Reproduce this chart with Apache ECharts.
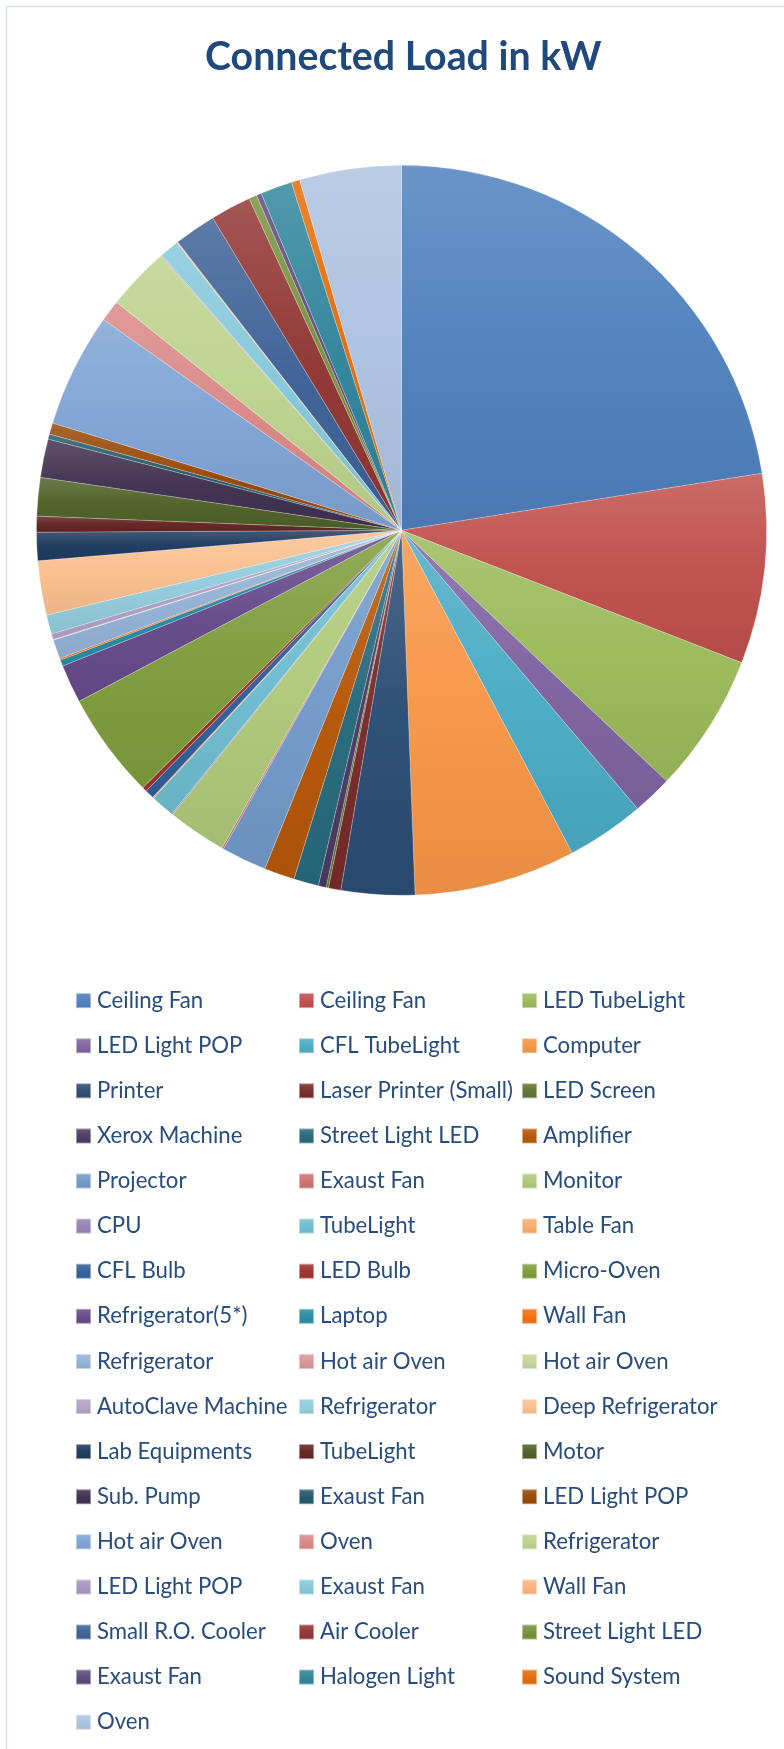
<!DOCTYPE html>
<html>
<head>
<meta charset="utf-8">
<title>Connected Load in kW</title>
<script src="https://cdn.jsdelivr.net/npm/echarts@6/dist/echarts.min.js"></script>
<style>
  html, body { margin: 0; padding: 0; background: #ffffff; }
  #chart { width: 784px; height: 1749px; }
</style>
</head>
<body>
<div id="chart"></div>
<script>
// Appliance categories, in slice order (clockwise from 12 o'clock)
const labels = [
  'Ceiling Fan', 'Ceiling Fan', 'LED TubeLight',
  'LED Light POP', 'CFL TubeLight', 'Computer',
  'Printer', 'Laser Printer (Small)', 'LED Screen',
  'Xerox Machine', 'Street Light LED', 'Amplifier',
  'Projector', 'Exaust Fan', 'Monitor',
  'CPU', 'TubeLight', 'Table Fan',
  'CFL Bulb', 'LED Bulb', 'Micro-Oven',
  'Refrigerator(5*)', 'Laptop', 'Wall Fan',
  'Refrigerator', 'Hot air Oven', 'Hot air Oven',
  'AutoClave Machine', 'Refrigerator', 'Deep Refrigerator',
  'Lab Equipments', 'TubeLight', 'Motor',
  'Sub. Pump', 'Exaust Fan', 'LED Light POP',
  'Hot air Oven', 'Oven', 'Refrigerator',
  'LED Light POP', 'Exaust Fan', 'Wall Fan',
  'Small R.O. Cooler', 'Air Cooler', 'Street Light LED',
  'Exaust Fan', 'Halogen Light', 'Sound System',
  'Oven'
];

// Connected load of each category, kW
const loadKW = [
  45.0, 16.8, 12.3,
  3.5, 6.9, 14.3,
  6.5, 1.1, 0.2,
  0.7, 2.2, 2.7,
  4.0, 0.15, 5.2,
  0.1, 2.1, 0.1,
  0.8, 0.4, 9.4,
  3.4, 0.55, 0.15,
  1.7, 0.03, 0.03,
  0.5, 1.7, 4.8,
  2.5, 1.4, 3.4,
  3.4, 0.45, 1.0,
  10.1, 1.9, 5.6,
  0.1, 1.7, 0.1,
  3.7, 3.6, 0.7,
  0.45, 2.8, 0.75,
  9.0
];

// Office-style colour cycle
const sliceColors = [
  '#4F81BD', '#C0504D', '#9BBB59', '#8064A2', '#4BACC6', '#F79646',
  '#2C4D75', '#772C2A', '#5F7530', '#4D3B62', '#276A7C', '#B65708',
  '#729ACA', '#CD7371', '#AFC97A', '#9983B5', '#6FBDD1', '#F9AB6B',
  '#33609A', '#9E3330', '#7E9D3C', '#664A8A', '#2B8CA7', '#F56F10',
  '#95B3D7', '#D99694', '#C3D69B', '#B3A2C7', '#93CDDD', '#FAC090',
  '#1F3A60', '#632523', '#4F6228', '#3F3151', '#215968', '#984807',
  '#7FA3D5', '#D98987', '#BDD38E', '#A996C2', '#86C8DA', '#FBB47E',
  '#3E6297', '#913634', '#76923C', '#5F497A', '#31859C', '#E46C0A',
  '#ADC3E1'
];

function mix(hex, target, t) {
  const n = parseInt(hex.slice(1), 16);
  const r = (n >> 16) & 255, g = (n >> 8) & 255, b = n & 255;
  const m = c => Math.round(c + (target - c) * t);
  return 'rgb(' + m(r) + ',' + m(g) + ',' + m(b) + ')';
}

// Soft vertical shading: lighter at the top, slightly deeper at the bottom
function shaded(hex) {
  return {
    type: 'linear', x: 0, y: 0, x2: 0, y2: 1,
    colorStops: [
      { offset: 0, color: mix(hex, 255, 0.16) },
      { offset: 0.5, color: mix(hex, 255, 0.02) },
      { offset: 1, color: mix(hex, 0, 0.06) }
    ]
  };
}

// Several categories share a name, so each slice gets a unique key "index|label"
const keys = labels.map((l, i) => i + '|' + l);
const shownName = key => key.slice(key.indexOf('|') + 1);

const pieData = keys.map((k, i) => ({
  name: k,
  value: loadKW[i],
  itemStyle: { color: shaded(sliceColors[i]) }
}));

const legendCols = [75, 298, 521];
const legendBase = {
  orient: 'vertical',
  top: 989.6,
  height: 755,
  itemWidth: 15,
  itemHeight: 15,
  itemGap: 23.1,
  icon: 'rect',
  selectedMode: false,
  formatter: shownName,
  textStyle: {
    fontFamily: 'Lato',
    fontSize: 22.2,
    color: '#284C7E',
    padding: [0, 0, 0, 1]
  },
  padding: 0
};
const legends = legendCols.map((x, c) => Object.assign({}, legendBase, {
  left: x,
  data: keys.filter((_, i) => i % 3 === c)
}));

const chart = echarts.init(document.getElementById('chart'), null, { renderer: 'canvas' });
chart.setOption({
  animation: false,
  backgroundColor: '#ffffff',
  title: {
    text: 'Connected Load in kW',
    left: 205,
    top: 38,
    padding: 0,
    textStyle: {
      fontFamily: 'Lato',
      fontWeight: 'bold',
      fontSize: 39.3,
      lineHeight: 39.3,
      color: '#1F497D'
    }
  },
  graphic: [{
    type: 'rect',
    silent: true,
    shape: { x: 6.5, y: 6.5, width: 900, height: 1800 },
    style: { fill: 'none', stroke: '#D5E0EE', lineWidth: 1.5 }
  }],
  legend: legends,
  series: [{
    type: 'pie',
    center: [401.5, 530.3],
    radius: 365,
    startAngle: 90,
    clockwise: true,
    label: { show: false },
    labelLine: { show: false },
    emphasis: { disabled: true },
    itemStyle: { borderColor: 'rgba(255,255,255,0.45)', borderWidth: 0.5 },
    data: pieData
  }]
});
</script>
</body>
</html>
